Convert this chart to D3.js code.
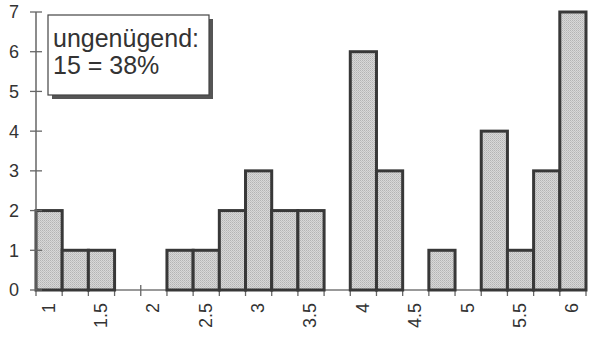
<!DOCTYPE html>
<html>
<head>
<meta charset="utf-8">
<script src="https://cdn.jsdelivr.net/npm/d3@7"></script>
<style>
  html, body { margin: 0; padding: 0; background: #fff; }
  svg { display: block; font-family: "Liberation Sans", Arial, Helvetica, sans-serif; }
</style>
</head>
<body>
<svg id="chart" width="593" height="340"></svg>
<script>
// Grades (quarter steps) and how many students got each
const grades = [1, 1.25, 1.5, 1.75, 2, 2.25, 2.5, 2.75, 3, 3.25, 3.5, 3.75, 4, 4.25, 4.5, 4.75, 5, 5.25, 5.5, 5.75, 6];
const counts = [2, 1, 1, 0, 0, 1, 1, 2, 3, 2, 2, 0, 6, 3, 0, 1, 0, 4, 1, 3, 7];
const xTickLabels = ["1", "1.5", "2", "2.5", "3", "3.5", "4", "4.5", "5", "5.5", "6"];
const yTicks = [0, 1, 2, 3, 4, 5, 6, 7];
const noteLines = ["ungenügend:", "15 = 38%"];

const svg = d3.select("#chart");
const half = 0.125;

const x = d3.scaleLinear().domain([grades[0] - half, grades[grades.length - 1] + half]).range([36, 586]);
const y = d3.scaleLinear().domain([0, 7]).range([290, 12]);

// stippled grey fill
const defs = svg.append("defs");
const pat = defs.append("pattern").attr("id", "stipple")
  .attr("width", 2).attr("height", 2).attr("patternUnits", "userSpaceOnUse");
pat.append("rect").attr("width", 2).attr("height", 2).attr("fill", "#d8d8d8");
pat.append("rect").attr("width", 1).attr("height", 1).attr("fill", "#b4b4b4");
pat.append("rect").attr("x", 1).attr("y", 1).attr("width", 1).attr("height", 1).attr("fill", "#c2c2c2");

// x baseline
svg.append("line")
  .attr("x1", x.range()[0]).attr("x2", x.range()[1])
  .attr("y1", y(0)).attr("y2", y(0))
  .attr("stroke", "#777").attr("stroke-width", 1.5);

// x ticks at every bin boundary
const bounds = grades.map(g => g - half).concat([grades[grades.length - 1] + half]);
svg.append("g").selectAll("line").data(bounds).join("line")
  .attr("x1", d => x(d)).attr("x2", d => x(d))
  .attr("y1", y(0) - 5).attr("y2", y(0) + 6)
  .attr("stroke", "#666").attr("stroke-width", 1.3);

// bars
const data = grades.map((g, i) => ({ g, c: counts[i] })).filter(d => d.c > 0);
svg.append("g").selectAll("rect").data(data).join("rect")
  .attr("x", d => x(d.g - half))
  .attr("y", d => y(d.c))
  .attr("width", d => x(d.g + half) - x(d.g - half))
  .attr("height", d => y(0) - y(d.c))
  .attr("fill", "url(#stipple)")
  .attr("stroke", "#383838")
  .attr("stroke-width", 3);

// y axis line and ticks
svg.append("line")
  .attr("x1", x.range()[0]).attr("x2", x.range()[0])
  .attr("y1", y(7)).attr("y2", y(0))
  .attr("stroke", "#666").attr("stroke-width", 1.5);
svg.append("g").selectAll("line").data(yTicks).join("line")
  .attr("x1", 30).attr("x2", 42)
  .attr("y1", d => y(d)).attr("y2", d => y(d))
  .attr("stroke", "#666").attr("stroke-width", 1.3);
svg.append("g").selectAll("text").data(yTicks).join("text")
  .attr("x", 14).attr("y", d => y(d))
  .attr("dy", "0.36em")
  .attr("text-anchor", "middle")
  .attr("font-size", 18).attr("fill", "#333")
  .text(d => d);

// rotated x labels
svg.append("g").selectAll("text").data(xTickLabels).join("text")
  .attr("transform", d => `translate(${x(+d) - 1},303) rotate(-90)`)
  .attr("dy", "0.36em")
  .attr("text-anchor", "end")
  .attr("font-size", 18).attr("fill", "#333")
  .text(d => d);

// note box with drop shadow
const box = { x: 48, y: 15, w: 161, h: 80 };
svg.append("rect")
  .attr("x", box.x + 4).attr("y", box.y + 4)
  .attr("width", box.w).attr("height", box.h)
  .attr("fill", "#555");
svg.append("rect")
  .attr("x", box.x).attr("y", box.y)
  .attr("width", box.w).attr("height", box.h)
  .attr("fill", "#fff").attr("stroke", "#444").attr("stroke-width", 1.2);
svg.append("g").selectAll("text").data(noteLines).join("text")
  .attr("x", 53).attr("y", (d, i) => 47 + i * 27)
  .attr("font-size", 25).attr("fill", "#333")
  .text(d => d);
</script>
</body>
</html>
